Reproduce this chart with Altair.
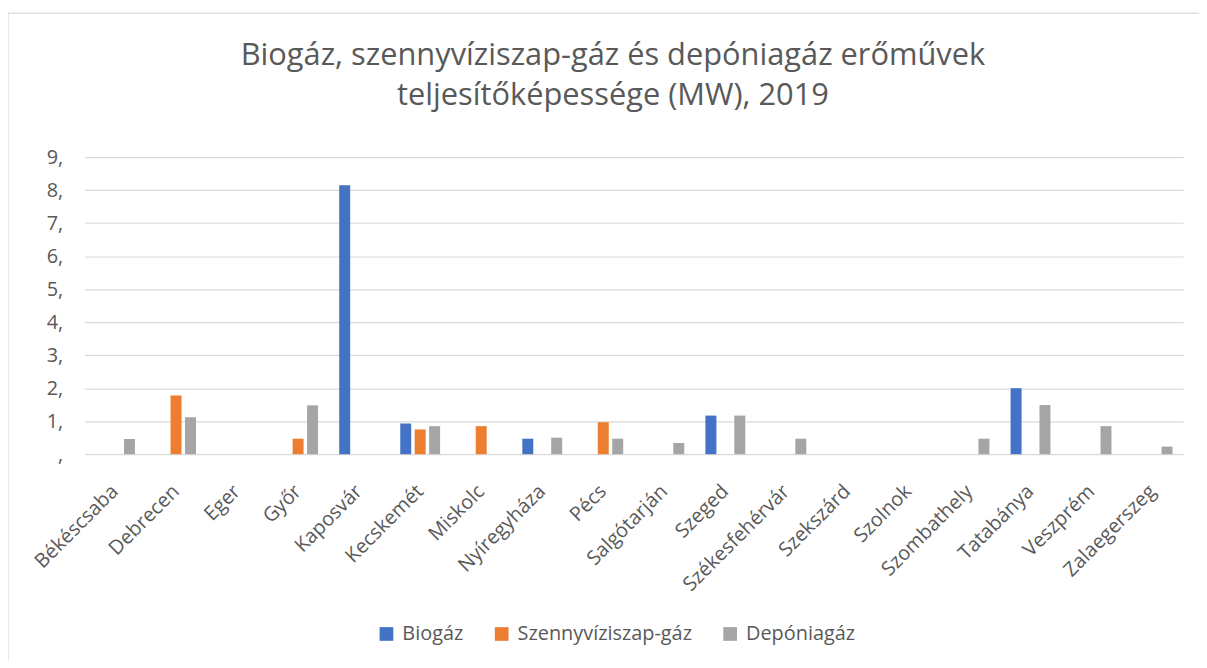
import altair as alt
import pandas as pd

cities = ["Békéscsaba", "Debrecen", "Eger", "Győr", "Kaposvár", "Kecskemét", "Miskolc",
          "Nyíregyháza", "Pécs", "Salgótarján", "Szeged", "Székesfehérvár", "Szekszárd",
          "Szolnok", "Szombathely", "Tatabánya", "Veszprém", "Zalaegerszeg"]
series = ["Biogáz", "Szennyvíziszap-gáz", "Depóniagáz"]
colors = ["#4472C4", "#ED7D31", "#A5A5A5"]

biogaz = [None, None, None, None, 8.15, 0.93, None, 0.47, None, None, 1.17, None, None,
          None, None, 2.0, None, None]
szennyviz = [None, 1.78, None, 0.47, None, 0.75, 0.85, None, 0.97, None, None, None, None,
             None, None, None, None, None]
deponia = [0.46, 1.12, None, 1.48, None, 0.85, None, 0.50, 0.47, 0.34, 1.17, 0.47, None,
           None, 0.47, 1.49, 0.85, 0.23]

y_ticks = [0, 1, 2, 3, 4, 5, 6, 7, 8, 9]
title_lines = ["Biogáz, szennyvíziszap-gáz és depóniagáz erőművek",
               "teljesítőképessége (MW), 2019"]

rows = []
for s, vals in zip(series, [biogaz, szennyviz, deponia]):
    for c, v in zip(cities, vals):
        if v is not None:
            rows.append({"Város": c, "Sorozat": s, "MW": v})
df = pd.DataFrame(rows)

FONT = "Open Sans"
TXT = "#595959"
LBL = 20

bars = alt.Chart(df).mark_bar().encode(
    x=alt.X("Város:N", sort=cities,
            scale=alt.Scale(domain=cities, paddingInner=0.29, paddingOuter=0.145),
            axis=alt.Axis(title=None, labelAngle=-45, labelAlign="right", labelBaseline="middle",
                          labelFontSize=LBL, labelColor=TXT, labelFont=FONT, ticks=False,
                          domain=False, labelPadding=34, labelOffset=0)),
    xOffset=alt.XOffset("Sorozat:N", sort=series,
                        scale=alt.Scale(domain=series, paddingInner=0.24, paddingOuter=0.12)),
    y=alt.Y("MW:Q", scale=alt.Scale(domain=[0, 9], nice=False),
            axis=alt.Axis(title=None, values=y_ticks, labelFontSize=LBL, labelColor=TXT,
                          labelFont=FONT, ticks=False, domain=False, labelPadding=22,
                          gridColor="#D9D9D9", gridWidth=1.2,
                          labelExpr="datum.value == 0 ? ',' : datum.value + ','")),
    color=alt.Color("Sorozat:N", sort=series,
                    scale=alt.Scale(domain=series, range=colors),
                    legend=alt.Legend(title=None, orient="none", direction="horizontal",
                                      legendX=294, legendY=470, symbolType="square",
                                      symbolSize=190, symbolStrokeWidth=0, labelFontSize=LBL,
                                      labelColor=TXT, labelFont=FONT, columnPadding=28,
                                      labelOffset=6, labelLimit=0)),
)

title = alt.Chart(pd.DataFrame({"k": [0]})).mark_text(
    font=FONT, fontSize=31, color=TXT, align="center", baseline="alphabetic", lineHeight=40
).encode(x=alt.value(532), y=alt.value(-93), text=alt.value(title_lines))

frame = alt.Chart(pd.DataFrame({"k": [0]})).mark_rect(
    fill=None, stroke="#D9D9D9", strokeWidth=1.2
).encode(x=alt.value(-77), y=alt.value(-145), x2=alt.value(1300), y2=alt.value(700))

chart = alt.layer(frame, title, bars).properties(
    width=1106, height=299,
    autosize=alt.AutoSizeParams(type="none"),
    padding={"left": 77, "top": 148, "right": 16, "bottom": 205},
).configure_view(stroke=None)

chart.save("out.html", embed_options={"renderer": "svg", "actions": False})
